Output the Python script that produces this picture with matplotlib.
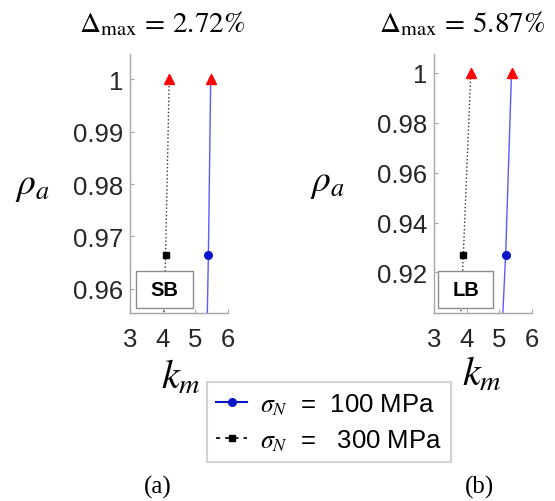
import matplotlib
matplotlib.use("Agg")
import matplotlib.pyplot as plt
from matplotlib.lines import Line2D
from matplotlib.patches import Rectangle

plt.rcParams['mathtext.fontset'] = 'stix'
plt.rcParams['font.family'] = ['Liberation Sans', 'DejaVu Sans']

# ---- data ----
rho_a = [0.95, 0.9665, 1.0]
k100_a = [5.35, 5.40, 5.47]
k300_a = [4.02, 4.09, 4.20]
tri_a_k = [4.20, 5.47]
tri_a_rho = [1.0, 1.0]

rho_b = [0.90, 0.927, 1.0]
k100_b = [5.10, 5.20, 5.38]
k300_b = [3.81, 3.90, 4.13]
tri_b_k = [4.13, 5.38]
tri_b_rho = [1.0, 1.0]

xticks = [3, 4, 5, 6]
yticks_a = [0.96, 0.97, 0.98, 0.99, 1.0]
yticklabels_a = ['0.96', '0.97', '0.98', '0.99', '1']
yticks_b = [0.92, 0.94, 0.96, 0.98, 1.0]
yticklabels_b = ['0.92', '0.94', '0.96', '0.98', '1']

titles = [r'$\Delta_{\mathrm{max}}\,=\,2.72\%$', r'$\Delta_{\mathrm{max}}\,=\,5.87\%$']
box_labels = ['SB', 'LB']
legend_labels = [r'$\sigma_N$  =  100 MPa', r'$\sigma_N$  =   300 MPa']
panel_labels = ['(a)', '(b)']

W, H = 555, 502
fig = plt.figure(figsize=(W / 100, H / 100), dpi=100)

def fx(px):
    return px / W

def fy(py):
    return (H - py) / H

axa = fig.add_axes([fx(130), fy(314), fx(228) - fx(130), fy(55) - fy(314)])
axb = fig.add_axes([fx(434), fy(314), fx(531.7) - fx(434), fy(55) - fy(314)])

blue_line = '#5a5aff'
blue_mk = '#0a14c8'
spine_c = '#a6a6a6'

panels = [
    (axa, rho_a, k100_a, k300_a, tri_a_k, tri_a_rho, (0.9554, 1.0048), yticks_a, yticklabels_a),
    (axb, rho_b, k100_b, k300_b, tri_b_k, tri_b_rho, (0.9037, 1.0076), yticks_b, yticklabels_b),
]

title_x = [161.7, 461.7]
rho_lab = [(32, 186), (327.5, 183)]
km_lab = [(181, 377), (482, 374)]
boxes = [(135.7, 192.7), (437.7, 493.3)]
panel_lab_x = [158, 480]

for i, (ax, rho, k100, k300, tk, tr, ylim, yt, ytl) in enumerate(panels):
    ax.plot(k100, rho, '-', color=blue_line, lw=1.0, zorder=2)
    ax.plot(k100[1:2], rho[1:2], 'o', color=blue_mk, ms=5.5, zorder=4)
    ax.plot(k300, rho, ':', color='#333333', lw=1.0, zorder=2)
    ax.plot(k300[1:2], rho[1:2], 's', color='black', ms=5, zorder=4)
    ax.plot(tk, tr, '^', color='#ff0000', ms=7, zorder=5, clip_on=False)
    ax.set_xlim(3, 6)
    ax.set_ylim(*ylim)
    ax.set_xticks(xticks)
    ax.set_xticklabels([str(x) for x in xticks])
    ax.set_yticks(yt)
    ax.set_yticklabels(ytl)
    for s in ['top', 'right']:
        ax.spines[s].set_visible(False)
    for s in ['left', 'bottom']:
        ax.spines[s].set_color(spine_c)
        ax.spines[s].set_linewidth(1.0)
    ax.tick_params(direction='in', length=3, color=spine_c, labelsize=18.5,
                   labelcolor='#262626')
    ax.tick_params(axis='x', pad=10)
    ax.tick_params(axis='y', pad=5)
    ax.patch.set_alpha(0)

    # label box
    x0, x1 = boxes[i]
    rect = Rectangle((fx(x0), fy(309.3)), fx(x1) - fx(x0), fy(271.7) - fy(309.3),
                     transform=fig.transFigure, facecolor='white',
                     edgecolor='#8c8c8c', lw=1.0, zorder=10)
    fig.add_artist(rect)
    fig.text(fx((x0 + x1) / 2), fy(290.5), box_labels[i], ha='center', va='center',
             fontsize=14.5, fontweight='bold', color='black', zorder=11)

    fig.text(fx(title_x[i]), fy(24), titles[i], ha='center', va='center', fontsize=21)
    fig.text(fx(rho_lab[i][0]), fy(rho_lab[i][1]), r'$\rho_a$', ha='center',
             va='center', fontsize=27)
    fig.text(fx(km_lab[i][0]), fy(km_lab[i][1]), r'$k_m$', ha='center',
             va='center', fontsize=29)
    fig.text(fx(panel_lab_x[i]), fy(487), panel_labels[i], ha='center', va='center',
             fontsize=18, family='Liberation Serif')

handles = [
    Line2D([], [], color=blue_mk, lw=1.5, marker='o', ms=5.5),
    Line2D([], [], color='black', lw=1.2, ls='--', dashes=(2.5, 3), marker='s', ms=5),
]
leg = fig.legend(handles, legend_labels, loc='upper left',
                 bbox_to_anchor=(fx(207.3), fy(383.3)), fontsize=18.5,
                 frameon=True, fancybox=False, handlelength=1.2,
                 handletextpad=0.5, borderpad=0.35, labelspacing=0.4,
                 borderaxespad=0)
leg.get_frame().set_edgecolor('#c8c8c8')
leg.get_frame().set_linewidth(1.5)

fig.savefig('out.png', dpi=100)
